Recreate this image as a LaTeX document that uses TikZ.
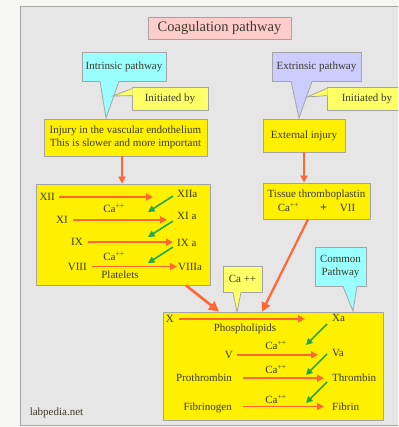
\documentclass[tikz,border=0pt]{standalone}
\usepackage{fontspec}
\setmainfont{Liberation Serif}
\usetikzlibrary{arrows.meta}

\definecolor{outbg}{HTML}{F6F6F4}
\definecolor{panelgray}{HTML}{E6E6E6}
\definecolor{edgegray}{HTML}{A4A4A4}
\definecolor{titlepink}{HTML}{FFCCCC}
\definecolor{cyanfill}{HTML}{99FFFF}
\definecolor{lilacfill}{HTML}{CCCCFF}
\definecolor{paleyellow}{HTML}{FFFF66}
\definecolor{boxyellow}{HTML}{FFF000}
\definecolor{arrowor}{HTML}{FF6633}
\definecolor{arrowgr}{HTML}{22A84A}
\definecolor{txt}{HTML}{3A3A2A}

\tikzset{
  box/.style={draw=edgegray, line width=0.8pt, fill=boxyellow, inner sep=0pt, text=txt, align=center},
  lbl/.style={inner sep=0pt, text=txt, text height=7pt, text depth=0pt},
  orarrow/.style={draw=arrowor, line width=1.8pt, -{Triangle[length=7pt,width=7pt]}},
  bigarrow/.style={draw=arrowor, line width=2.6pt, -{Triangle[length=10pt,width=10pt]}},
  grarrow/.style={draw=arrowgr, line width=1.6pt, -{Triangle[length=6.5pt,width=6.5pt]}}
}

\begin{document}
\begin{tikzpicture}[x=1pt,y=-1pt,font=\fontsize{11}{12.5}\selectfont]
  \clip (0,0) rectangle (398,427);
  \fill[outbg] (0,0) rectangle (398,427);
  \filldraw[fill=panelgray, draw=edgegray, line width=0.8pt] (20.5,6.5) rectangle (420,425.5);

  % title and main boxes
  \node[box, fill=titlepink, minimum width=143, minimum height=22,
        font=\fontsize{14.5}{16}\selectfont] (title) at (219.5,28) {Coagulation pathway};
  \node[box, minimum width=163, minimum height=37] (injury) at (125.5,137.5)
    {Injury in the vascular endothelium\\This is slower and more important};
  \node[box, minimum width=82, minimum height=33] (external) at (304,135.5) {External injury};
  \node[box, minimum width=107, minimum height=36] (tissue) at (316.5,201)
    {Tissue thromboplastin\\[1pt]Ca\textsuperscript{++}\hspace{21pt}{\large\bfseries +}\hspace{13pt}VII\hspace{12pt}};
  \node[box, minimum width=174, minimum height=101] (cascade) at (123,234.5) {};
  \node[box, minimum width=220, minimum height=108] (common) at (273,366) {};

  % callouts
  \node[box, fill=cyanfill, minimum width=84, minimum height=29] (intrinsic) at (124,66.5) {Intrinsic pathway};
  \node[box, fill=lilacfill, minimum width=89, minimum height=29] (extrinsic) at (316.5,66.5) {Extrinsic pathway};
  \node[box, fill=paleyellow, minimum width=39, minimum height=26] (calcium) at (242.5,279) {Ca ++};
  \node[box, fill=cyanfill, minimum width=51, minimum height=39] (commonpw) at (340.5,266.5) {Common\\Pathway};
  \foreach \nd/\col/\tipx/\tipy/\a/\b in {intrinsic/cyanfill/106/118/-24/-5,
      extrinsic/lilacfill/299/118/-25.5/-4.5, calcium/paleyellow/237/312/-9.5/-1.5,
      commonpw/cyanfill/353/311/2.5/16.5}
  {
    \fill[\col] ([xshift=\a,yshift=1pt]\nd.south) -- (\tipx,\tipy) -- ([xshift=\b,yshift=1pt]\nd.south) -- cycle;
    \draw[edgegray, line width=0.8pt] ([xshift=\a]\nd.south) -- (\tipx,\tipy) -- ([xshift=\b]\nd.south);
  }
  \node[box, fill=paleyellow, minimum width=76, minimum height=23] (initA) at (170,98.5) {Initiated by};
  \node[box, fill=paleyellow, minimum width=80, minimum height=23] (initB) at (367,98.5) {Initiated by};
  \foreach \nd/\tipx/\tipy in {initA/113/96, initB/307/97}
  {
    \fill[paleyellow] ([xshift=1pt,yshift=-2]\nd.north west) -- (\tipx,\tipy) -- ([xshift=1pt,yshift=-9]\nd.north west) -- cycle;
    \draw[edgegray, line width=0.8pt] ([yshift=-2]\nd.north west) -- (\tipx,\tipy) -- ([yshift=-9]\nd.north west);
  }

  % intrinsic cascade
  \node[lbl, anchor=east] (xii) at (55,197) {XII};
  \node[lbl, anchor=west] (xiia) at (177,194.5) {XIIa};
  \node[lbl] (caA) at (114,209) {Ca\textsuperscript{++}};
  \node[lbl, anchor=east] (xi) at (68,219.8) {XI};
  \node[lbl, anchor=west] (xia) at (177,215.5) {XI a};
  \node[lbl, anchor=east] (ix) at (83,242.2) {IX};
  \node[lbl, anchor=west] (ixa) at (177,242.5) {IX a};
  \node[lbl] (caB) at (114,257.2) {Ca\textsuperscript{++}};
  \node[lbl, anchor=east] (viii) at (87,266.5) {VIII};
  \node[lbl, anchor=west] (viiia) at (178,266.5) {VIIIa};
  \node[lbl] (platelets) at (120,274.8) {Platelets};

  % common pathway
  \node[lbl, anchor=east] (x) at (174,318.8) {X};
  \node[lbl, anchor=west] (xa) at (332,318.2) {Xa};
  \node[lbl] (phospho) at (245,328.2) {Phospholipids};
  \node[lbl] (caC) at (276,345.5) {Ca\textsuperscript{++}};
  \node[lbl, anchor=east] (v) at (233,354.8) {V};
  \node[lbl, anchor=west] (va) at (332,352.5) {Va};
  \node[lbl] (caD) at (276,369.8) {Ca\textsuperscript{++}};
  \node[lbl, anchor=east] (prothr) at (232,378.2) {Prothrombin};
  \node[lbl, anchor=west] (thromb) at (332,378.2) {Thrombin};
  \node[lbl] (caE) at (276,399.8) {Ca\textsuperscript{++}};
  \node[lbl, anchor=east] (fibrgen) at (232,406.5) {Fibrinogen};
  \node[lbl, anchor=west] (fibrin) at (332,406.5) {Fibrin};

  \node[lbl] (credit) at (56.5,411.5) {labpedia.net};

  % arrows
  \foreach \s/\t/\g/\h in {xii/xiia/4/24, xi/xia/5/10, ix/ixa/5/4, viii/viiia/5/1,
      x/xa/5/27, v/va/4/14, prothr/thromb/11/8, fibrgen/fibrin/11/8}
    \draw[orarrow, shorten <=\g, shorten >=\h] (\s.east) -- (\s.east -| \t.west);
  \foreach \n/\dy in {xiia/-1.5, xia/-5.5, ixa/-4.5}
    \draw[grarrow] ([xshift=-4,yshift=\dy]\n.west) -- ++(-25,16);
  \foreach \n/\dy in {xa/-5.8, va/-1.5, thromb/-3.8}
    \draw[grarrow] ([xshift=-5,yshift=\dy]\n.west) -- ++(-21,21);

  \coordinate (injdrop) at ([xshift=-3.5]injury.south);
  \draw[orarrow] (injdrop) -- (injdrop |- cascade.north);
  \draw[orarrow] (external.south) -- (external.south |- tissue.north);
  \draw[bigarrow] ([xshift=63]cascade.south) -- ([xshift=-54]common.north);
  \draw[orarrow, line width=2.2pt, -{Triangle[length=9pt,width=9pt]}]
    ([xshift=-8.5]tissue.south) -- ([xshift=-11]common.north);
\end{tikzpicture}
\end{document}
